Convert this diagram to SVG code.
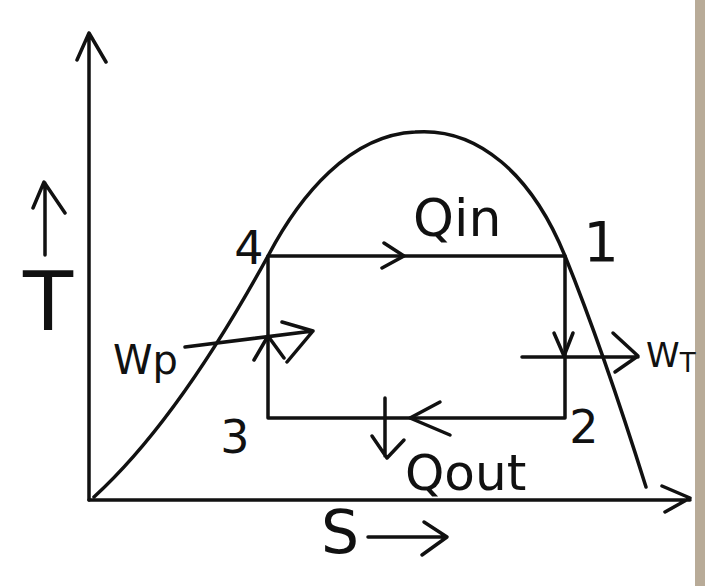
<svg xmlns="http://www.w3.org/2000/svg" width="716" height="586" viewBox="0 0 716 586">
<style>
.ln{fill:none;stroke:#111;stroke-width:3.5;stroke-linecap:round;stroke-linejoin:round}
.tx{font-family:"DejaVu Sans","Liberation Sans",sans-serif;fill:#111}
</style>
<rect width="716" height="586" fill="#fff"/>
<rect x="695" y="0" width="10" height="586" fill="#b8ab98"/>
<g id="axes">
<path class="ln" d="M89,500 V33 M77,60 L89,33 L106,62"/>
<path class="ln" d="M89,500 H690 M662,486 L690,498 L665,512"/>
</g>
<g id="dome">
<path class="ln" d="M94,497 C140,455 200,380 268,256 C300,195 350,135 415,132 C478,127 532,175 565,256 C595,330 625,420 646,487"/>
</g>
<g id="connectors">
<path class="ln" d="M268,256 H565 V418 H268 Z"/>
<path class="ln" d="M384,243 L404,256 L382,268"/>
<path class="ln" d="M554,333 L564,356 L573,333"/>
<path class="ln" d="M440,402 L410,418 L450,435"/>
<path class="ln" d="M254,360 L268,336 L284,358"/>
<path class="ln" d="M185,347 L313,331 M282,322 L313,331 L287,362"/>
<path class="ln" d="M522,357 H638 M613,333 L638,356 L615,372"/>
<path class="ln" d="M385,398 V456 M372,436 L387,458 L404,440"/>
<path class="ln" d="M368,537 H447 M424,522 L447,537 L422,555"/>
<path class="ln" d="M45,255 V183 M33,208 L44,182 L65,213"/>
</g>
<g id="labels">
<text class="tx" x="48" y="330" font-size="82" text-anchor="middle">T</text>
<text class="tx" x="340" y="553" font-size="60" text-anchor="middle">S</text>
<text class="tx" x="413" y="236" font-size="52">Qin</text>
<text class="tx" x="601" y="261" font-size="56" text-anchor="middle">1</text>
<text class="tx" x="249" y="264" font-size="46" text-anchor="middle">4</text>
<text class="tx" x="235" y="453" font-size="46" text-anchor="middle">3</text>
<text class="tx" x="584" y="443" font-size="46" text-anchor="middle">2</text>
<text class="tx" x="113" y="374" font-size="40">Wp</text>
<text class="tx" x="646" y="367" font-size="34">W<tspan font-size="26" dy="5">T</tspan></text>
<text class="tx" x="405" y="490" font-size="50">Qout</text>
</g>
</svg>
